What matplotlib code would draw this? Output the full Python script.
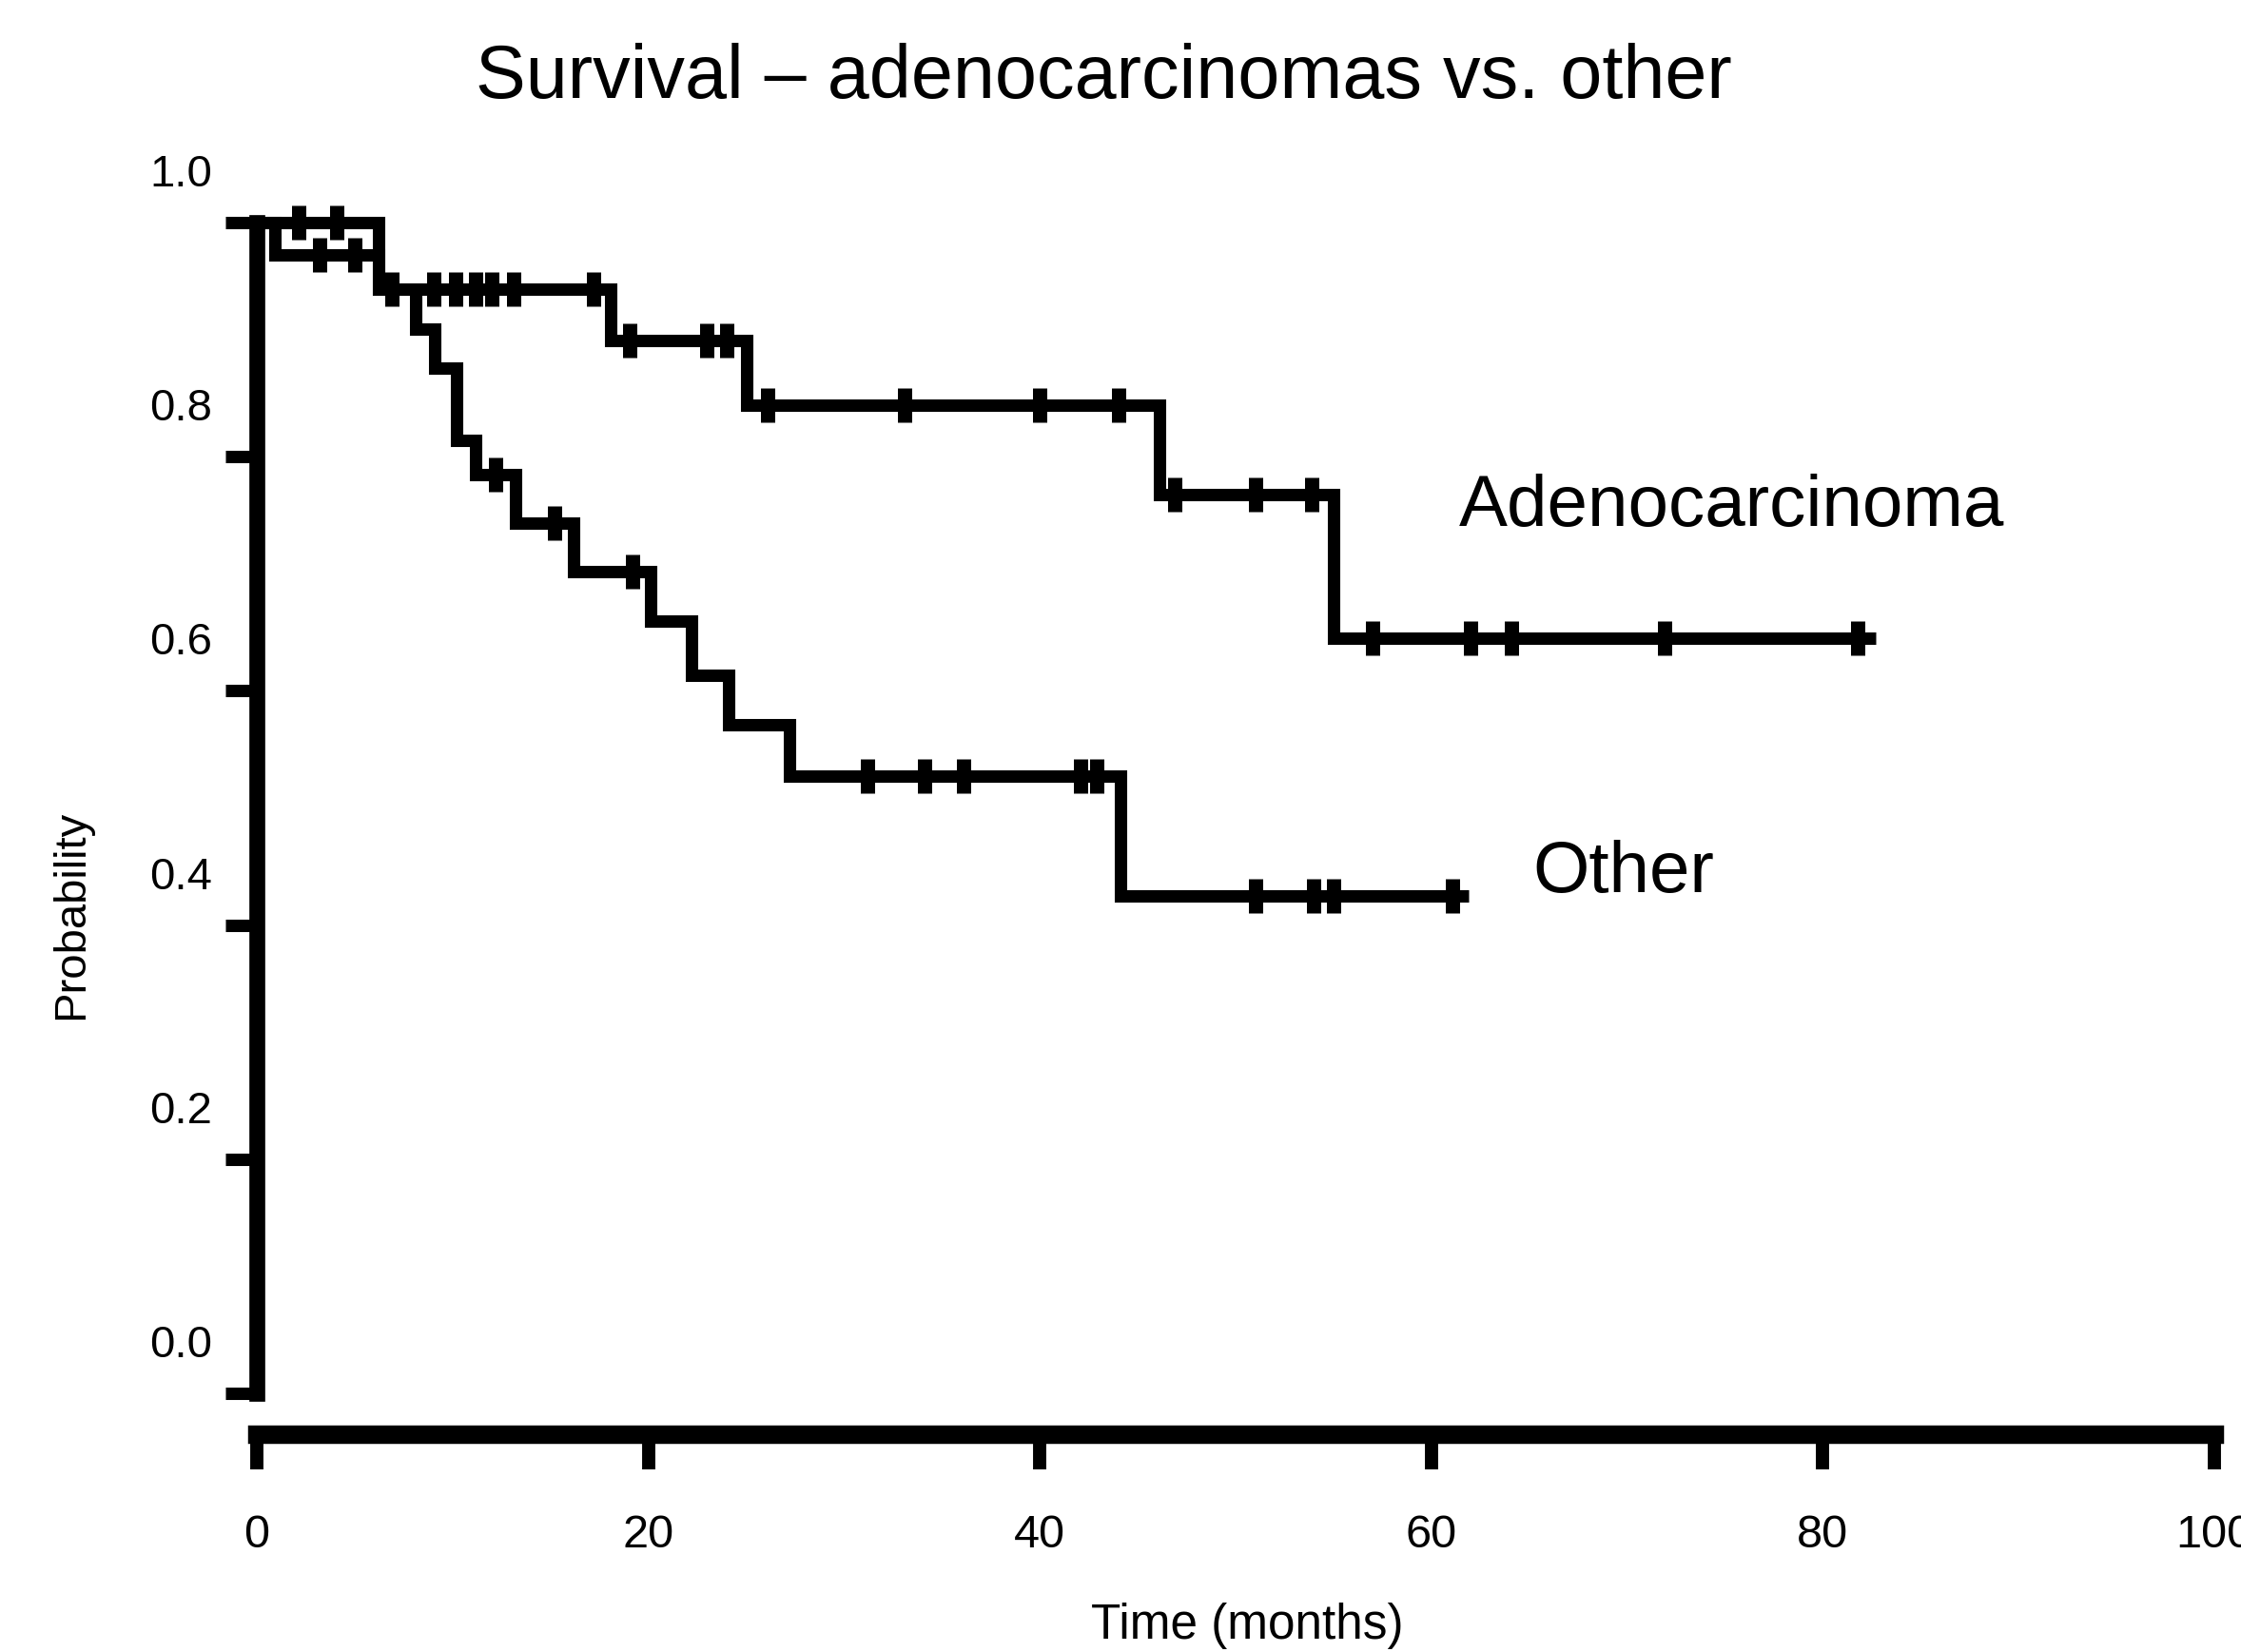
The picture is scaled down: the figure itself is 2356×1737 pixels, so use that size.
import numpy as np
import matplotlib
matplotlib.use("Agg")
import matplotlib.pyplot as plt
from matplotlib.transforms import ScaledTranslation

plt.rcParams['font.family'] = ['Liberation Sans', 'DejaVu Sans']

# ---- data (months, survival probability) ----
adeno_times = [0.0, 6.2, 18.1, 25.0, 46.1, 55.0]
adeno_surv = [1.0, 0.943, 0.899, 0.844, 0.768, 0.645]
adeno_end = 82.7
adeno_censor = [2.15, 4.1, 6.9, 9.05, 10.15, 11.2, 12.0, 13.1, 17.2,
                19.05, 23.0, 24.0, 26.1, 33.1, 40.0, 44.0,
                46.9, 51.0, 53.9, 57.0, 62.0, 64.1, 71.9, 81.8]

other_times = [0.0, 0.9, 6.2, 8.1, 9.1, 10.2, 11.2, 13.2, 16.2, 20.1, 22.2,
               24.1, 27.2, 44.1]
other_surv = [1.0, 0.972, 0.943, 0.909, 0.876, 0.814, 0.785, 0.743, 0.702,
              0.660, 0.613, 0.571, 0.527, 0.425]
other_end = 61.9
other_censor = [3.2, 5.0, 12.2, 15.2, 19.2, 31.2, 34.1, 36.1, 42.1, 42.9,
                51.0, 54.0, 55.0, 61.1]

x_ticks = [0, 20, 40, 60, 80, 100]
x_ticklabels = ['0', '20', '40', '60', '80', '100']
y_ticks = [0.0, 0.2, 0.4, 0.6, 0.8, 1.0]
y_ticklabels = ['0.0', '0.2', '0.4', '0.6', '0.8', '1.0']

title = 'Survival \u2013 adenocarcinomas vs. other'
xlabel = 'Time (months)'
ylabel = 'Probability'
labels = ['Adenocarcinoma', 'Other']
label_pos = [(61.4, 0.757), (65.2, 0.444)]

# ---- figure ----
W, H, DPI = 2356, 1737, 200
fig = plt.figure(figsize=(W / DPI, H / DPI), dpi=DPI)
fig.patch.set_facecolor('white')
ax = fig.add_axes([270 / W, 1 - 1465 / H, 2058 / W, 1231 / H])
ax.set_xlim(0, 100)
ax.set_ylim(0, 1)

LW = 4.7


def km(times, surv, end, censor):
    t = np.append(np.asarray(times, float), end)
    s = np.append(np.asarray(surv, float), surv[-1])
    ax.plot(t, s, drawstyle='steps-post', color='black', lw=LW,
            solid_joinstyle='miter', solid_capstyle='butt', clip_on=False,
            zorder=3)
    c = np.asarray(censor, float)
    idx = np.searchsorted(np.asarray(times, float), c, side='right') - 1
    cs = np.asarray(surv, float)[idx]
    ax.plot(c, cs, linestyle='none', marker='|', ms=13.3, mew=5.4,
            color='black', clip_on=False, zorder=4)


km(adeno_times, adeno_surv, adeno_end, adeno_censor)
km(other_times, other_surv, other_end, other_censor)

for lab, (lx, ly) in zip(labels, label_pos):
    ax.text(lx, ly, lab, fontsize=27.5, ha='left', va='center', color='black')

# spines
for s in ['top', 'right']:
    ax.spines[s].set_visible(False)
ax.spines['left'].set_linewidth(6)
ax.spines['left'].set_bounds(0, 1)
ax.spines['bottom'].set_linewidth(7)
ax.spines['bottom'].set_bounds(0, 100)
ax.spines['bottom'].set_position(('outward', 15.5))

ax.set_xticks(x_ticks)
ax.set_xticklabels(x_ticklabels)
ax.set_yticks(y_ticks)
ax.set_yticklabels(y_ticklabels)
ax.tick_params(axis='x', direction='out', length=13.3, width=5, pad=17,
               labelsize=17.5)
ax.tick_params(axis='y', direction='out', length=12, width=4.7, pad=5,
               labelsize=17)

# y tick labels sit above their tick marks in the reference
off = ScaledTranslation(0, 55 / DPI, fig.dpi_scale_trans)
for lbl in ax.get_yticklabels():
    lbl.set_transform(lbl.get_transform() + off)

fig.text(1160 / W, 1 - 83 / H, title, fontsize=28.5, ha='center', va='center')
fig.text(1311 / W, 1 - 1710 / H, xlabel, fontsize=18.5, ha='center',
         va='center')
fig.text(75 / W, 1 - 962 / H, ylabel, fontsize=17, ha='center', va='center',
         rotation=90)

fig.savefig('out.png', dpi=DPI, facecolor='white')
